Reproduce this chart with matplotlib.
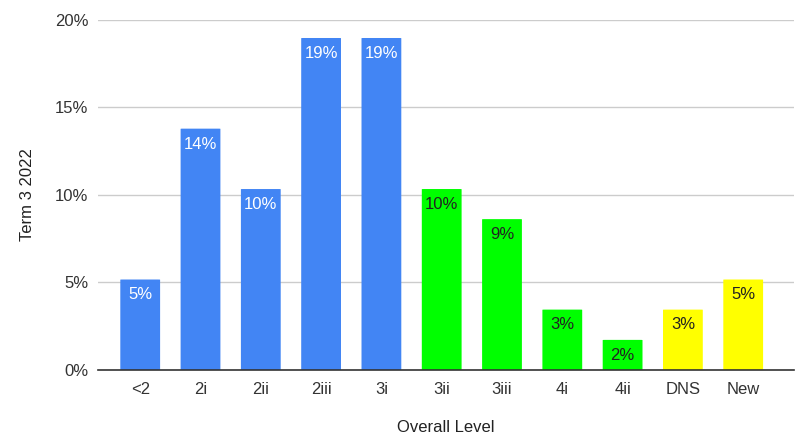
import matplotlib
matplotlib.use("Agg")
import matplotlib.pyplot as plt
from matplotlib.patches import FancyBboxPatch

plt.rcParams['font.family'] = ['Liberation Sans', 'DejaVu Sans']

levels = ["<2", "2i", "2ii", "2iii", "3i", "3ii", "3iii", "4i", "4ii", "DNS", "New"]
shares = [5.17, 13.79, 10.34, 18.97, 18.97, 10.34, 8.62, 3.45, 1.72, 3.45, 5.17]
groups = ["blue"] * 5 + ["green"] * 4 + ["yellow"] * 2
y_ticks = [0, 5, 10, 15, 20]

fill = {"blue": "#4285F4", "green": "#00FF00", "yellow": "#FFFF00"}
text_col = {"blue": "white", "green": "#222222", "yellow": "#222222"}

fig = plt.figure(figsize=(7.98, 4.36), dpi=100)
ax = fig.add_axes([0.1228, 0.1514, 0.872, 0.8028])

width = 0.66
for i, (lv, v, g) in enumerate(zip(levels, shares, groups)):
    patch = FancyBboxPatch((i - width / 2, 0), width, v,
                           boxstyle="round,pad=0,rounding_size=0.03",
                           mutation_aspect=0.35,
                           facecolor=fill[g], edgecolor="none", zorder=3)
    ax.add_patch(patch)
    ax.text(i, v - 0.45, f"{round(v):d}%", ha="center", va="top",
            color=text_col[g], fontsize=12, zorder=4)

ax.set_xlim(-0.7, 10.84)
ax.set_ylim(0, 20)
ax.set_xticks(range(len(levels)))
ax.set_xticklabels(levels)
ax.set_yticks(y_ticks)
ax.set_yticklabels([f"{t}%" for t in y_ticks])
ax.tick_params(axis="both", length=0, labelsize=12, colors="#333333")
ax.tick_params(axis="x", pad=9)
ax.tick_params(axis="y", pad=7)

ax.grid(axis="y", color="#cccccc", linewidth=1, zorder=0)
for s in ["top", "right", "left"]:
    ax.spines[s].set_visible(False)
ax.spines["bottom"].set_color("#333333")
ax.spines["bottom"].set_linewidth(1.2)
ax.spines["bottom"].set_zorder(5)

ax.set_xlabel("Overall Level", fontsize=12, color="#222222", labelpad=16)
ax.set_ylabel("Term 3 2022", fontsize=12, color="#222222", labelpad=14)

fig.savefig("out.png", dpi=100)
